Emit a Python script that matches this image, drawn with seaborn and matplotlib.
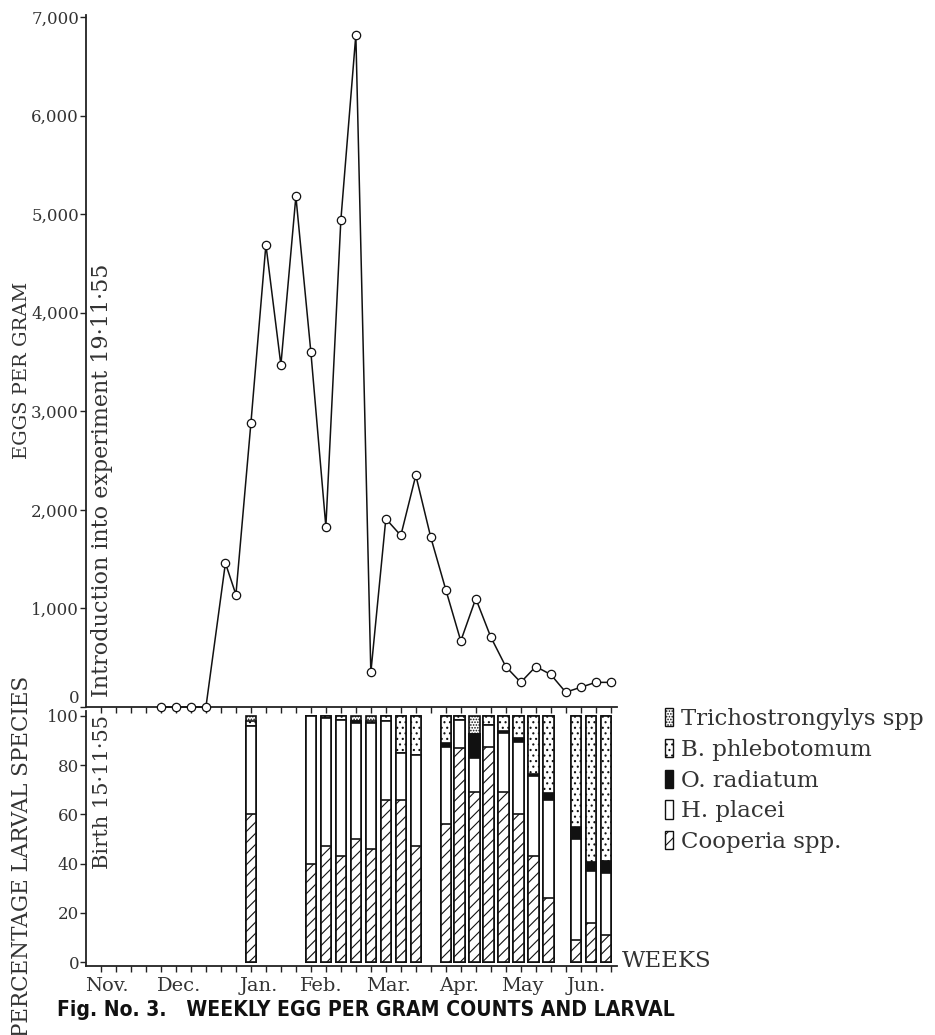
import numpy as np
import pandas as pd
import seaborn as sns
import matplotlib
matplotlib.use("Agg")
import matplotlib.pyplot as plt
from matplotlib.patches import Patch

# ---------------- data ----------------
egg_weeks = [5, 6, 7, 8, 9.3, 10, 11, 12, 13, 14, 15, 16, 17, 18, 19, 20, 21, 22, 23,
             24, 25, 26, 27, 28, 29, 30, 31, 32, 33, 34, 35]
egg_counts = [0, 0, 0, 0, 1460, 1140, 2880, 4690, 3470, 5180, 3600, 1830, 4940, 6820, 350,
              1910, 1740, 2350, 1720, 1190, 670, 1100, 710, 410, 250, 410, 330, 150, 200, 250, 250]

bar_weeks = [11, 15, 16, 17, 18, 19, 20, 21, 22,
             24, 24.9, 25.9, 26.85, 27.85, 28.85, 29.85, 30.85,
             32.7, 33.7, 34.7]
cooperia = [60, 40, 47, 43, 50, 46, 66, 66, 47,
            56, 87, 69, 87.5, 69, 60, 43, 26,
            9, 16, 11]
h_placei = [36, 60, 52, 55.5, 47, 51, 32, 19, 37,
            31.5, 11.5, 14, 9, 24, 29.5, 32.5, 40,
            41, 21, 25]
o_radiatum = [0, 0, 0, 0, 1, 0, 0, 0, 0,
              1.5, 0, 9.5, 0, 0.7, 1.5, 1, 2.7,
              5, 3.5, 5]
b_phlebotomum = [2, 0, 1, 1.5, 0, 1, 2, 15, 16,
                 11, 1.5, 0, 3.5, 6.3, 9, 23.5, 31.3,
                 45, 59.5, 59]
trichostrongylus = [2, 0, 0, 0, 2, 2, 0, 0, 0,
                    0, 0, 7.5, 0, 0, 0, 0, 0,
                    0, 0, 0]

species = ["Trichostrongylys spp", "B. phlebotomum", "O. radiatum", "H. placei", "Cooperia spp."]
months = ["Nov.", "Dec.", "Jan.", "Feb.", "Mar.", "Apr.", "May", "Jun."]
month_pos = [1.4, 6.2, 11.5, 15.7, 20.2, 24.9, 29.1, 33.4]
egg_ticks = [0, 1000, 2000, 3000, 4000, 5000, 6000, 7000]
pct_ticks = [0, 20, 40, 60, 80, 100]

# ---------------- style ----------------
sns.set_theme(style="ticks")
plt.rcParams["font.family"] = ["DejaVu Serif"]
plt.rcParams["hatch.linewidth"] = 0.8
TXT = "#333333"

W, H = 935, 1035
fig = plt.figure(figsize=(W / 100, H / 100), dpi=100)
fig.patch.set_facecolor("white")

def fx(px):
    return px / W

def fy(py):
    return 1 - py / H

ax1 = fig.add_axes([fx(86), fy(707), fx(617) - fx(86), fy(15) - fy(707)])
ax2 = fig.add_axes([fx(86), fy(966), fx(617) - fx(86), fy(711) - fy(966)])

# ---------------- top: egg counts ----------------
df_egg = pd.DataFrame({"week": egg_weeks, "epg": egg_counts})
sns.lineplot(data=df_egg, x="week", y="epg", ax=ax1, color="#111111", linewidth=1.1,
             marker="o", markersize=6, markerfacecolor="white", markeredgecolor="#111111",
             markeredgewidth=0.9, clip_on=False, zorder=5)
ax1.set_ylim(0, 7020)
ax1.set_yticks(egg_ticks)
ax1.set_yticklabels([f"{v:,}" for v in egg_ticks])

# ---------------- bottom: stacked percentages ----------------
c1 = np.array(cooperia)
c2 = c1 + np.array(h_placei)
c3 = c2 + np.array(o_radiatum)
c4 = c3 + np.array(b_phlebotomum)
c5 = c4 + np.array(trichostrongylus)

layers = [
    (c5, "white", "......"),
    (c4, "white", "..."),
    (c3, "#111111", None),
    (c2, "white", None),
    (c1, "white", "///"),
]
min_gap = np.min(np.diff(np.unique(bar_weeks)))
width_frac = 0.7 / min_gap
for cum, fc, hatch in layers:
    n_before = len(ax2.patches)
    df_b = pd.DataFrame({"week": bar_weeks, "pct": cum})
    sns.barplot(data=df_b, x="week", y="pct", ax=ax2, native_scale=True, color=fc,
                saturation=1, width=width_frac, errorbar=None, edgecolor="#111111",
                linewidth=1.2)
    for p in ax2.patches[n_before:]:
        p.set_facecolor(fc)
        if hatch:
            p.set_hatch(hatch)

ax2.set_ylim(-1.6, 102)
ax2.set_yticks(pct_ticks)

# ---------------- axes cosmetics ----------------
for ax in (ax1, ax2):
    sns.despine(ax=ax)
    ax.set_xlim(0, 35.42)
    ax.set_xticks(np.arange(1, 36))
    ax.set_xticklabels([])
    ax.set_xlabel("")
    ax.set_ylabel("")
    ax.tick_params(axis="x", direction="out", length=4, width=1.0, color="#222222")
    ax.tick_params(axis="y", direction="out", length=4, width=1.0, color="#222222",
                   labelsize=12, labelcolor=TXT, pad=1)
    for s in ("left", "bottom"):
        ax.spines[s].set_linewidth(1.3)
        ax.spines[s].set_color("#222222")
    ax.set_facecolor("none")

# keep the top-panel "0" clear of the lower panel's "100"
ax1.get_yticklabels()[0].set_verticalalignment("bottom")

# annotations inside axes
ax1.text(1.09, 2300, "Introduction into experiment 19\u00b711\u00b755", rotation=90,
         ha="center", va="center", fontsize=16, color=TXT)
ax2.text(1.09, 69, "Birth 15\u00b711\u00b755", rotation=90,
         ha="center", va="center", fontsize=15, color=TXT)

# month labels
for m, pos in zip(months, month_pos):
    ax2.text(pos, -0.078, m, transform=ax2.get_xaxis_transform(), ha="center",
             va="center", fontsize=14, color=TXT)
ax2.text(1.009, 0.02, "WEEKS", transform=ax2.transAxes, ha="left", va="center",
         fontsize=16.5, color=TXT)

# y labels
fig.text(fx(22), fy(370), "EGGS PER GRAM", rotation=90, ha="center", va="center",
         fontsize=14, color=TXT)
fig.text(fx(22), fy(856), "PERCENTAGE LARVAL SPECIES", rotation=90, ha="center",
         va="center", fontsize=15.5, color=TXT)

# title
fig.text(fx(57), fy(1010), "Fig. No. 3.   WEEKLY EGG PER GRAM COUNTS AND LARVAL",
         ha="left", va="center", fontsize=15.1, fontweight="bold", fontstretch="condensed",
         family=["DejaVu Sans"], color="#111111")

# legend
handles = [
    Patch(facecolor="white", edgecolor="#111111", hatch="......", linewidth=1.0),
    Patch(facecolor="white", edgecolor="#111111", hatch="...", linewidth=1.0),
    Patch(facecolor="#111111", edgecolor="#111111", linewidth=1.0),
    Patch(facecolor="white", edgecolor="#111111", linewidth=1.0),
    Patch(facecolor="white", edgecolor="#111111", hatch="///", linewidth=1.0),
]
fig.legend(handles, species, loc="upper left", bbox_to_anchor=(fx(665), fy(708)),
           frameon=False, fontsize=16.5, handlelength=0.36, handleheight=0.85,
           handletextpad=0.35, labelspacing=0.38, borderaxespad=0, borderpad=0,
           labelcolor=TXT)

fig.savefig("out.png", dpi=100, facecolor="white")
